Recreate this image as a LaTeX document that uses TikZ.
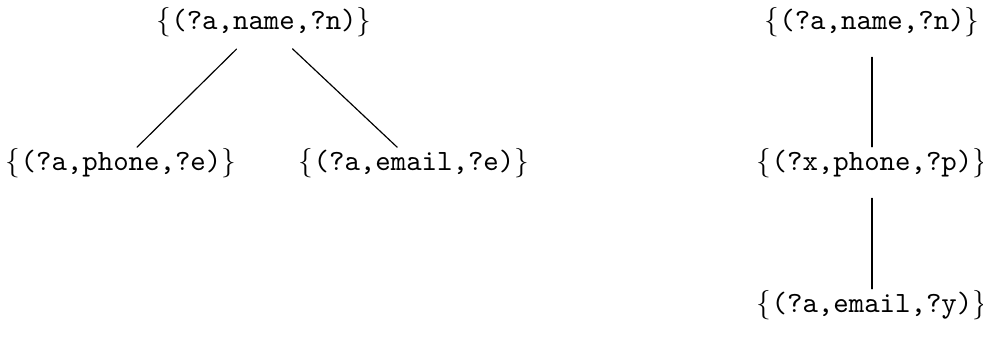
\documentclass[tikz,border=0pt]{standalone}
\usepackage{amsmath}
\usetikzlibrary{positioning}
\newcommand{\trip}[1]{$\{$\texttt{(#1)}$\}$}

\begin{document}
\begin{tikzpicture}[x=0.34pt,y=-0.34pt,line cap=round,
  pat/.style={inner sep=0pt,outer sep=0pt},
  edge/.style={thin,shorten <=6pt,shorten >=0.5pt}]
\useasboundingbox (0,0) rectangle (983,341);
% left: two children
\node[pat] (lroot) at (264,22) {\trip{?a,name,?n}};
\node[pat] (lphone) at (121,163) {\trip{?a,phone,?e}};
\node[pat] (lemail) at (414,163) {\trip{?a,email,?e}};
\draw[edge] (lroot) -- (lphone);
\draw[edge] (lroot) -- (lemail);
% right: a chain
\node[pat] (rname) at (872,22) {\trip{?a,name,?n}};
\node[pat] (rphone) at (872,163) {\trip{?x,phone,?p}};
\node[pat] (remail) at (872,305) {\trip{?a,email,?y}};
\draw[edge,shorten <=7pt] (rname) -- (rphone);
\draw[edge,shorten <=7pt] (rphone) -- (remail);
\end{tikzpicture}
\end{document}
